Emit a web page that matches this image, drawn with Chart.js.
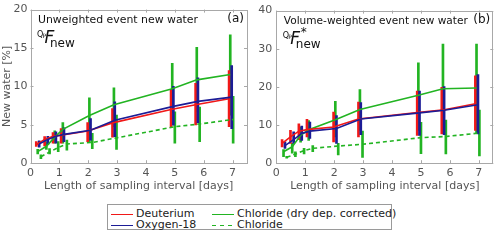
<!DOCTYPE html>
<html>
<head>
<meta charset="utf-8">
<script src="https://cdn.jsdelivr.net/npm/chart.js@4.4.1/dist/chart.umd.min.js"></script>
<style>
    body { margin: 0; width: 500px; height: 243px; background: #fff; position: relative; overflow: hidden; font-family: 'DejaVu Sans', sans-serif; }
    .panel { position: absolute; top: 0; width: 250px; height: 200px; }
    #legend { position: absolute; left: 107px; top: 204px; width: 285px; height: 26px; border: 1px solid #9a9a9a; box-sizing: border-box; }
    #legend .key { position: absolute; width: 22px; height: 1.6px; }
    #legend .lab { position: absolute; font-size: 11px; line-height: 12px; color: #222; white-space: nowrap; }
</style>
</head>
<body>
<div class="panel" style="left:0"><canvas id="chartA"></canvas></div>
<div class="panel" style="left:250px"><canvas id="chartB"></canvas></div>
<div id="legend">
    <span class="key" style="left:3px;top:8.5px;background:#f01818"></span>
    <span class="lab" style="left:28px;top:2.5px">Deuterium</span>
    <span class="key" style="left:3px;top:19.5px;background:#1c1c96"></span>
    <span class="lab" style="left:28px;top:13.5px">Oxygen-18</span>
    <span class="key" style="left:104px;top:8.5px;background:#22b422"></span>
    <span class="lab" style="left:129px;top:2.5px">Chloride (dry dep. corrected)</span>
    <span class="key" style="left:104px;top:19.5px;background:repeating-linear-gradient(to right,#22b422 0 4px,transparent 4px 8px)"></span>
    <span class="lab" style="left:129px;top:13.5px">Chloride</span>
</div>
<script>
// Tick values
const xTicks = [0, 1, 2, 3, 4, 5, 6, 7];
const yTicksA = [0, 5, 10, 15, 20];
const yTicksB = [0, 10, 20, 30, 40];

// Length of sampling interval [days], per tracer (slightly shifted in the figure)
const xDeuterium = [0.2, 0.49, 0.78, 1.06, 1.98, 2.84, 4.87, 5.72, 6.88];
const xOxygen18 = [0.3, 0.6, 0.88, 1.16, 2.08, 2.92, 4.95, 5.8, 6.97];
const xChlorideCorr = [0.25, 0.55, 0.84, 1.12, 2.04, 2.89, 4.91, 5.76, 6.92];
const xChloride = [0.36, 0.66, 0.96, 1.26, 2.14, 2.98, 5.0, 5.86, 7.02];

// (a) Unweighted event new water [%]
const aDeuterium = [2.4, 3.1, 3.5, 3.65, 4.2, 5.25, 7.0, 7.6, 8.4];
const aDeuteriumLow = [2.2, 2.25, 2.6, 2.6, 2.8, 3.4, 4.65, 5.0, 4.75];
const aDeuteriumHigh = [2.8, 3.45, 4.0, 4.5, 5.3, 7.1, 9.6, 10.4, 12.05];
const aOxygen18 = [2.5, 3.1, 3.5, 3.75, 4.3, 5.6, 7.4, 8.05, 8.6];
const aOxygen18Low = [2.1, 2.4, 2.6, 2.8, 3.0, 3.45, 4.95, 5.25, 4.5];
const aOxygen18High = [2.9, 3.5, 4.1, 4.6, 5.8, 8.0, 10.0, 11.1, 12.7];
const aChlorideCorr = [1.5, 2.2, 3.4, 4.4, 6.2, 7.6, 9.7, 10.85, 11.55];
const aChlorideCorrLow = [1.2, 1.8, 2.6, 2.6, 2.7, 4.75, 6.55, 6.7, 6.25];
const aChlorideCorrHigh = [1.8, 2.8, 4.2, 5.3, 8.5, 9.8, 13.0, 15.1, 16.7];
const aChloride = [0.85, 1.45, 2.05, 2.5, 2.7, 3.3, 4.75, 5.1, 5.7];
const aChlorideLow = [0.6, 1.2, 1.5, 1.7, 1.9, 1.8, 2.6, 2.8, 2.6];
const aChlorideHigh = [1.1, 1.9, 2.8, 3.0, 3.9, 6.25, 6.7, 7.3, 8.7];

// (b) Volume-weighted event new water [%]
const bDeuterium = [5.2, 6.9, 8.4, 8.8, 9.5, 11.6, 13.3, 13.9, 15.6];
const bDeuteriumLow = [4.3, 5.2, 6.2, 6.9, 5.6, 6.9, 7.3, 7.7, 8.6];
const bDeuteriumHigh = [6.2, 8.6, 10.3, 11.5, 13.4, 16.0, 18.9, 19.9, 22.9];
const bOxygen18 = [4.6, 6.2, 7.8, 8.4, 9.1, 11.6, 13.2, 13.9, 15.3];
const bOxygen18Low = [3.9, 5.2, 6.0, 6.5, 5.2, 7.5, 7.3, 7.5, 7.7];
const bOxygen18High = [5.6, 8.2, 9.7, 10.8, 12.5, 15.9, 18.9, 20.1, 23.2];
const bChlorideCorr = [3.0, 4.3, 7.3, 8.8, 11.4, 14.1, 17.8, 19.5, 19.7];
const bChlorideCorrLow = [1.7, 2.6, 5.5, 6.0, 6.9, 8.6, 8.6, 8.0, 8.0];
const bChlorideCorrHigh = [3.6, 5.2, 9.5, 11.2, 16.2, 19.3, 26.3, 31.2, 31.2];
const bChloride = [1.55, 2.4, 3.3, 3.9, 4.5, 4.95, 6.7, 7.0, 7.9];
const bChlorideLow = [1.3, 1.7, 2.4, 3.0, 2.2, 1.5, 2.5, 2.4, 1.9];
const bChlorideHigh = [1.8, 3.0, 3.9, 4.6, 5.2, 8.4, 10.7, 11.3, 13.9];

const RED = '#f01818';
const BLUE = '#1c1c96';
const GREEN = '#22b422';
const AXIS_GREY = '#a8a8a8';
const TEXT_GREY = '#555555';
const FONT = "'DejaVu Sans', sans-serif";

function points(xs, ys) {
    return xs.map((x, i) => ({ x: x, y: ys[i] }));
}

function ranges(xs, lo, hi) {
    return xs.map((x, i) => ({ x: x, y: [lo[i], hi[i]] }));
}

function lineSet(xs, ys, color, dashed) {
    return {
        type: 'line',
        data: points(xs, ys),
        borderColor: color,
        borderWidth: 1.6,
        borderDash: dashed ? [4, 3] : [],
        pointRadius: 0,
        tension: 0,
        fill: false
    };
}

function barSet(xs, lo, hi, color) {
    return {
        type: 'bar',
        data: ranges(xs, lo, hi),
        backgroundColor: color,
        borderWidth: 0,
        barThickness: 2,
        grouped: false
    };
}

// Box round the plot with inward ticks on all four sides
const framePlugin = {
    id: 'frame',
    beforeDatasetsDraw(chart) {
        const { ctx, chartArea: a, scales: { x, y } } = chart;
        ctx.save();
        ctx.strokeStyle = AXIS_GREY;
        ctx.lineWidth = 1;
        ctx.strokeRect(Math.round(a.left) + 0.5, Math.round(a.top) + 0.5,
            Math.round(a.right - a.left) - 1, Math.round(a.bottom - a.top) - 1);
        ctx.beginPath();
        x.ticks.forEach(t => {
            const px = Math.round(x.getPixelForValue(t.value)) + 0.5;
            ctx.moveTo(px, a.bottom); ctx.lineTo(px, a.bottom - 3);
            ctx.moveTo(px, a.top); ctx.lineTo(px, a.top + 3);
        });
        y.ticks.forEach(t => {
            const py = Math.round(y.getPixelForValue(t.value)) + 0.5;
            ctx.moveTo(a.left, py); ctx.lineTo(a.left + 3, py);
            ctx.moveTo(a.right, py); ctx.lineTo(a.right - 3, py);
        });
        ctx.stroke();
        ctx.restore();
    }
};

// Panel heading, tag and the QP F new symbol
const labelPlugin = {
    id: 'panelText',
    afterDraw(chart, args, opts) {
        const { ctx, chartArea: a } = chart;
        ctx.save();
        ctx.fillStyle = '#111';
        ctx.textBaseline = 'middle';
        ctx.textAlign = 'left';
        ctx.font = '11px ' + FONT;
        ctx.fillText(opts.title, a.left + 7.5, a.top + 10.5, opts.titleWidth);
        ctx.textAlign = 'right';
        ctx.font = '12px ' + FONT;
        ctx.fillText(opts.tag, a.right - 3, a.top + 9.5);
        ctx.textAlign = 'left';
        ctx.font = '8px ' + FONT;
        ctx.fillText('Q', a.left + 6.5, a.top + 25);
        ctx.font = '6px ' + FONT;
        ctx.fillText('P', a.left + 12, a.top + 26.5);
        ctx.font = 'italic 17px ' + FONT;
        ctx.fillText('F', a.left + 14, a.top + 28.5);
        ctx.font = '12px ' + FONT;
        ctx.fillText('new', a.left + 19.5, a.top + 34.5);
        if (opts.star) {
            ctx.font = '12px ' + FONT;
            ctx.fillText('*', a.left + 24.5, a.top + 22.5);
        }
        ctx.restore();
    }
};

function makeChart(id, cfg) {
    const ctx = document.getElementById(id).getContext('2d');
    return new Chart(ctx, {
        type: 'line',
        data: {
            datasets: [
                lineSet(xOxygen18, cfg.o18, BLUE, false),
                lineSet(xDeuterium, cfg.deut, RED, false),
                lineSet(xChlorideCorr, cfg.clc, GREEN, false),
                lineSet(xChloride, cfg.cl, GREEN, true),
                barSet(xOxygen18, cfg.o18Low, cfg.o18High, BLUE),
                barSet(xDeuterium, cfg.deutLow, cfg.deutHigh, RED),
                barSet(xChlorideCorr, cfg.clcLow, cfg.clcHigh, GREEN),
                barSet(xChloride, cfg.clLow, cfg.clHigh, GREEN)
            ]
        },
        options: {
            responsive: true,
            maintainAspectRatio: false,
            animation: false,
            layout: { padding: { left: 0, top: 9, right: cfg.padRight, bottom: 0 } },
            plugins: {
                legend: { display: false },
                tooltip: { enabled: false },
                panelText: { title: cfg.title, titleWidth: cfg.titleWidth, tag: cfg.tag, star: cfg.star }
            },
            scales: {
                x: {
                    type: 'linear',
                    min: 0,
                    max: 7.5,
                    offset: false,
                    afterBuildTicks: s => { s.ticks = xTicks.map(v => ({ value: v })); },
                    afterFit: s => { s.height = 36.8; },
                    grid: { display: false, drawTicks: false },
                    border: { display: false },
                    ticks: { color: TEXT_GREY, font: { family: FONT, size: 11 }, padding: 3, maxRotation: 0 },
                    title: {
                        display: true,
                        text: 'Length of sampling interval [days]',
                        color: TEXT_GREY,
                        font: { family: FONT, size: 11 },
                        padding: { top: 0, bottom: 7 }
                    }
                },
                y: {
                    type: 'linear',
                    min: 0,
                    max: cfg.yTicks[cfg.yTicks.length - 1],
                    afterBuildTicks: s => { s.ticks = cfg.yTicks.map(v => ({ value: v })); },
                    afterFit: s => { s.width = cfg.yWidth; },
                    grid: { display: false, drawTicks: false },
                    border: { display: false },
                    ticks: { color: TEXT_GREY, font: { family: FONT, size: 11 }, padding: cfg.yPad },
                    title: {
                        display: cfg.yTitle !== '',
                        text: cfg.yTitle,
                        color: TEXT_GREY,
                        font: { family: FONT, size: 11 },
                        padding: { top: 1, bottom: 0 }
                    }
                }
            }
        },
        plugins: [framePlugin, labelPlugin]
    });
}

makeChart('chartA', {
    title: 'Unweighted event new water', titleWidth: 160, tag: '(a)', star: false,
    yTitle: 'New water [%]', yTicks: yTicksA, yWidth: 30.5, yPad: 3, padRight: 3,
    deut: aDeuterium, deutLow: aDeuteriumLow, deutHigh: aDeuteriumHigh,
    o18: aOxygen18, o18Low: aOxygen18Low, o18High: aOxygen18High,
    clc: aChlorideCorr, clcLow: aChlorideCorrLow, clcHigh: aChlorideCorrHigh,
    cl: aChloride, clLow: aChlorideLow, clHigh: aChlorideHigh
});

makeChart('chartB', {
    title: 'Volume-weighted event new water', titleWidth: 184, tag: '(b)', star: true,
    yTitle: '', yTicks: yTicksB, yWidth: 26.3, yPad: 4, padRight: 6.7,
    deut: bDeuterium, deutLow: bDeuteriumLow, deutHigh: bDeuteriumHigh,
    o18: bOxygen18, o18Low: bOxygen18Low, o18High: bOxygen18High,
    clc: bChlorideCorr, clcLow: bChlorideCorrLow, clcHigh: bChlorideCorrHigh,
    cl: bChloride, clLow: bChlorideLow, clHigh: bChlorideHigh
});
</script>
</body>
</html>
